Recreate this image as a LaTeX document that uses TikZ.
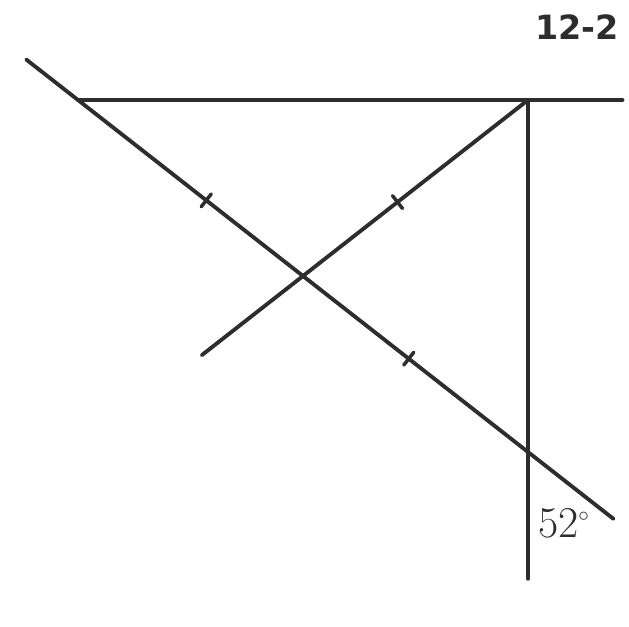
\documentclass[tikz,border=0pt]{standalone}
\usepackage{fontspec}
\newfontfamily\titlefont{DejaVu Sans}
\usetikzlibrary{calc}

\begin{document}
\begin{tikzpicture}[x=0.02cm,y=-0.02cm,line width=2.2pt,line cap=round,
    every node/.style={inner sep=0pt}]

    % Colors
    \definecolor{ink}{RGB}{45,45,45}
    \useasboundingbox (0,0) rectangle (629,626);

    % ======================
    % Points
    % ======================
    \coordinate (A) at (78,100);   % left corner
    \coordinate (B) at (528,100);  % right angle
    \coordinate (C) at (528,452);  % lower corner
    \coordinate (M) at ($(A)!0.5!(C)$);

    % ======================
    % Lines
    % ======================
    % top side, running past B
    \draw[ink] (A) -- ($(A)!1.21!(B)$);
    % vertical side, running below C
    \draw[ink] (B) -- ($(B)!1.36!(C)$);
    % hypotenuse, long both ways
    \draw[ink] ($(A)!-0.115!(C)$) -- ($(A)!1.19!(C)$);
    % median from B through M
    \draw[ink] (B) -- ($(B)!1.45!(M)$);

    % ======================
    % Tick marks (equal parts)
    % ======================
    \coordinate (T1) at ($(A)!0.57!(M)$);
    \coordinate (T2) at ($(B)!0.58!(M)$);
    \coordinate (T3) at ($(M)!0.47!(C)$);
    \draw[ink,line width=2pt] ($(T1)!4.6pt!90:(M)$) -- ($(T1)!4.6pt!-90:(M)$);
    \draw[ink,line width=2pt] ($(T2)!4.6pt!90:(M)$) -- ($(T2)!4.6pt!-90:(M)$);
    \draw[ink,line width=2pt] ($(T3)!4.6pt!90:(C)$) -- ($(T3)!4.6pt!-90:(C)$);

    % ======================
    % Labels
    % ======================
    \node[ink,font=\fontsize{25}{30}\selectfont] (angle) at (564,523) {52$^{\scriptscriptstyle\circ}$};
    \node[ink,font=\titlefont\bfseries\fontsize{19}{23}\selectfont] (title) at (577,27) {12-2};

  \end{tikzpicture}
\end{document}
